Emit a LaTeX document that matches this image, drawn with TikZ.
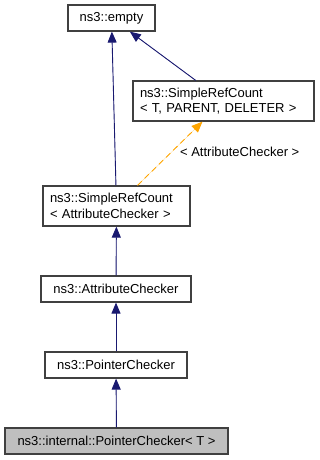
\documentclass[tikz,border=0pt]{standalone}
\usepackage{fontspec}
\setmainfont{Liberation Sans}
\usetikzlibrary{arrows.meta}
\definecolor{DoxNavy}{RGB}{25,25,112}
\definecolor{DoxOrange}{RGB}{255,165,0}
\definecolor{DoxGray}{RGB}{191,191,191}

\begin{document}
\begin{tikzpicture}[x=1pt, y=-1pt,
          cls/.style={rectangle, draw=black!75, line width=1.2pt, inner sep=0pt,
                      minimum height=26pt, font=\fontsize{13}{15.5}\selectfont},
          cls2/.style={cls, minimum height=40pt, align=left},
          arr/.style={-{Triangle[length=11pt, width=9pt]}, draw=DoxNavy, fill=DoxNavy, line width=0.9pt},
          tpl/.style={-{Triangle[length=11pt, width=9pt]}, draw=DoxOrange, fill=DoxOrange,
                      line width=0.9pt, dash pattern=on 6pt off 4pt}
        ]
        \useasboundingbox (0,0) rectangle (319,460);

        \node[cls, minimum width=87pt]  (empty)  at (111.5, 18) {ns3::empty};
        \node[cls2, minimum width=181pt, text width=167pt]
              (srctpd) at (223.5, 101) {ns3::SimpleRefCount\\< T, PARENT, DELETER >};
        \node[cls2, minimum width=147pt, text width=133pt]
              (srcac)  at (116.5, 206) {ns3::SimpleRefCount\\< AttributeChecker >};
        \node[cls, minimum width=150pt] (attr)   at (116, 289) {ns3::AttributeChecker};
        \node[cls, minimum width=142pt] (ptr)    at (116, 365) {ns3::PointerChecker};
        \node[cls, minimum width=223pt, fill=DoxGray]
              (iptr)   at (116.5, 441) {ns3::internal::PointerChecker< T >};

        \draw[arr] (srcac)  -- (empty);
        \draw[arr] (srctpd) -- (empty);
        \draw[tpl] (srcac)  -- node[pos=0.52, right=5pt, font=\fontsize{13}{15.5}\selectfont, text=black]
              (lbl) {< AttributeChecker >} (srctpd);
        \draw[arr] (attr)   -- (srcac);
        \draw[arr] (ptr)    -- (attr);
        \draw[arr] (iptr)   -- (ptr);
      \end{tikzpicture}
\end{document}
